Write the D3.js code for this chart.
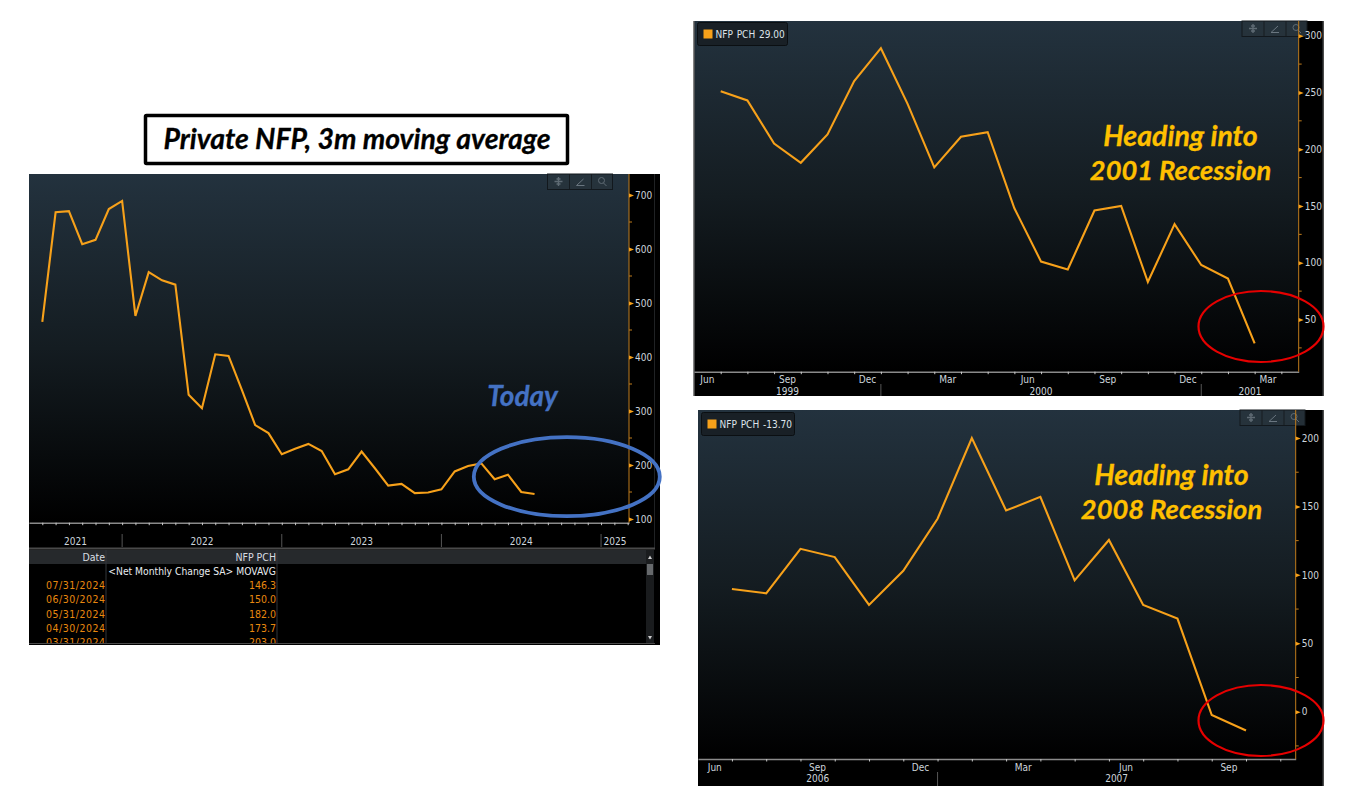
<!DOCTYPE html>
<html>
<head>
<meta charset="utf-8">
<script src="https://cdn.jsdelivr.net/npm/d3@7"></script>
<style>
  html, body { margin: 0; padding: 0; background: #fff; }
  svg { display: block; }
  .tick-label { font-family: "DejaVu Sans Condensed", "DejaVu Sans", sans-serif; font-size: 10px; fill: #cdd5dc; }
  .callout { font-family: Lato, sans-serif; font-weight: 700; font-style: italic; stroke-width: 0.3px; }
</style>
</head>
<body>
<svg id="chart" width="1369" height="790"></svg>
<script>
// Values, one point per month-end.
var todayValues = [465, 668, 670, 609, 617, 674, 689, 476, 557, 542, 534, 330, 305, 405, 402,
  339, 274, 259, 220, 230, 239, 226, 183, 192, 225, 194, 162, 165, 148, 149, 155, 188, 198,
  203, 173.7, 182, 150, 146.3];
var values2001 = [251, 243, 205, 188, 213, 260, 289, 240, 184, 211, 215, 148, 101, 94, 146,
  150, 83, 134, 98, 86, 29];
var values2008 = [89.6, 86.5, 119, 113, 78, 103, 141, 200, 147, 157, 96, 125.5, 78, 68, -2.4, -13.7];

var todayYTicks = [100, 200, 300, 400, 500, 600, 700];
var todayYMinor = [150, 250, 350, 450, 550, 650];
var yTicks2001 = [50, 100, 150, 200, 250, 300];
var yMinor2001 = [25, 75, 125, 175, 225, 275];
var yTicks2008 = [0, 50, 100, 150, 200];
var yMinor2008 = [-25, 25, 75, 125, 175];

// Month index of each December, then the year that ends or starts around it.
var todayYears = ['2021', '2022', '2023', '2024', '2025'];
var todayYearBreaks = [6, 18, 30, 42];
var years2001 = ['1999', '2000', '2001'];
var yearBreaks2001 = [6, 18];
var years2008 = ['2006', '2007'];
var yearBreaks2008 = [6];

var monthLabels2001 = ['Jun', 'Sep', 'Dec', 'Mar', 'Jun', 'Sep', 'Dec', 'Mar'];
var monthLabelIdx2001 = [0, 3, 6, 9, 12, 15, 18, 21];
var monthLabels2008 = ['Jun', 'Sep', 'Dec', 'Mar', 'Jun', 'Sep'];
var monthLabelIdx2008 = [0, 3, 6, 9, 12, 15];

var tableDates = ['07/31/2024', '06/30/2024', '05/31/2024', '04/30/2024', '03/31/2024'];
var tableValues = ['146.3', '150.0', '182.0', '173.7', '203.0'];

var lineColor = '#f7a11a';
var svg = d3.select('#chart');
var defs = svg.append('defs');

var grad = defs.append('linearGradient').attr('id', 'panelBg')
    .attr('x1', 0).attr('y1', 0).attr('x2', 0).attr('y2', 1);
grad.append('stop').attr('offset', '0%').attr('stop-color', '#23323e');
grad.append('stop').attr('offset', '50%').attr('stop-color', '#141c21');
grad.append('stop').attr('offset', '100%').attr('stop-color', '#000000');

function drawToolbox(g, x, y) {
  g = g.append('g').attr('transform', 'translate(' + x + ',' + y + ')');
  g.append('rect').attr('width', 65).attr('height', 15.5)
      .attr('fill', '#27333c').attr('fill-opacity', 0.92).attr('stroke', '#12181d');
  g.append('line').attr('x1', 22).attr('x2', 22).attr('y1', 0).attr('y2', 15).attr('stroke', '#161c21');
  g.append('line').attr('x1', 44).attr('x2', 44).attr('y1', 0).attr('y2', 15).attr('stroke', '#161c21');
  // move, draw and zoom glyphs
  g.append('path').attr('d', 'M11 3V12M7 7.5H15M9 5H13M9 10H13').attr('stroke', '#5f6b74').attr('stroke-width', 1.4).attr('fill', 'none');
  g.append('path').attr('d', 'M29 11.5L36 5M29 11.5H37').attr('stroke', '#6a7680').attr('fill', 'none');
  g.append('circle').attr('cx', 54).attr('cy', 6.5).attr('r', 3).attr('stroke', '#5f6b74').attr('fill', 'none');
  g.append('line').attr('x1', 56).attr('y1', 9).attr('x2', 59).attr('y2', 12).attr('stroke', '#5f6b74');
}

function drawPanel(p) {
  var g = svg.append('g');

  g.append('rect').attr('x', p.left).attr('y', p.top)
      .attr('width', p.outerRight - p.left).attr('height', p.bottom - p.top).attr('fill', '#000');
  g.append('rect').attr('x', p.left).attr('y', p.top)
      .attr('width', p.right - p.left).attr('height', p.axisY - p.top).attr('fill', 'url(#panelBg)');
  g.append('line').attr('x1', p.edgeX).attr('x2', p.edgeX).attr('y1', p.top).attr('y2', p.edgeBottom)
      .attr('stroke', '#202224');
  if (p.leftEdge) {
    g.append('line').attr('x1', p.left).attr('x2', p.left).attr('y1', p.top).attr('y2', p.bottom)
        .attr('stroke', '#5a5a5a').attr('stroke-width', 1.5);
  }

  drawToolbox(g, p.toolX, p.top);

  var x = d3.scaleLinear().domain(p.xDomain).range([p.left, p.right]);
  var y = d3.scaleLinear().domain(p.yDomain).range(p.yRange);

  // month ticks under the plot
  var xAxis = d3.axisBottom(x)
      .tickValues(d3.range(0, Math.floor(p.xDomain[1]) + 1))
      .tickSizeInner(2.5).tickSizeOuter(0).tickFormat('');
  var xg = g.append('g').attr('transform', 'translate(0,' + p.axisY + ')').call(xAxis);
  xg.select('.domain').attr('stroke', '#8a8a8a').attr('stroke-width', 1.4);
  xg.selectAll('.tick line').attr('stroke', '#c8c8c8');

  // value axis on the right with small arrow heads on the major ticks
  var yAxis = d3.axisRight(y).tickValues(p.yTicks).tickSize(0).tickPadding(5);
  var yg = g.append('g').attr('transform', 'translate(' + p.right + ',0)').call(yAxis);
  yg.select('.domain').attr('stroke', '#c07c1c').attr('d', 'M0,' + p.top + 'V' + p.axisY);
  yg.selectAll('.tick text').attr('class', 'tick-label').attr('x', 6).attr('fill', null);
  yg.selectAll('.tick').append('path').attr('d', 'M0,-2L5,0L0,2Z').attr('fill', '#f7a11a');
  yg.selectAll('.minor').data(p.yMinor).join('line').attr('class', 'minor')
      .attr('x1', 0).attr('x2', 3).attr('y1', d => y(d)).attr('y2', d => y(d))
      .attr('stroke', '#c07c1c');

  // year separators and labels
  var breaks = [p.xDomain[0]].concat(p.yearBreaks, [p.xDomain[1]]);
  g.selectAll('.year-sep').data(p.yearBreaks).join('line').attr('class', 'year-sep')
      .attr('x1', d => x(d)).attr('x2', d => x(d))
      .attr('y1', p.sepTop).attr('y2', p.sepBottom).attr('stroke', '#555');
  g.selectAll('.year').data(p.years).join('text').attr('class', 'tick-label year')
      .attr('x', (d, i) => x((breaks[i] + breaks[i + 1]) / 2))
      .attr('y', p.yearY).attr('text-anchor', 'middle').text(d => d);

  if (p.monthLabels) {
    g.selectAll('.month').data(p.monthLabels).join('text').attr('class', 'tick-label month')
        .attr('x', (d, i) => x(p.monthIdx[i] - 0.5))
        .attr('y', p.monthY).attr('text-anchor', 'middle').text(d => d);
  }

  var line = d3.line().x((d, i) => x(i)).y(d => y(d));
  g.append('path').datum(p.values).attr('d', line)
      .attr('fill', 'none').attr('stroke', lineColor).attr('stroke-width', 2.1)
      .attr('stroke-linejoin', 'miter');

  if (p.legend) {
    var lg = g.append('g').attr('transform', 'translate(' + p.legendX + ',' + p.legendY + ')');
    lg.append('rect').attr('width', p.legendW).attr('height', 23).attr('rx', 2)
        .attr('fill', '#192026').attr('stroke', '#0b0f12');
    lg.append('rect').attr('x', 6).attr('y', 7).attr('width', 9).attr('height', 9).attr('fill', lineColor);
    lg.append('text').attr('class', 'tick-label').attr('x', 18).attr('y', 15.5)
        .style('fill', '#dde4ea').style('word-spacing', '1px').text(p.legend);
  }
  return g;
}

drawPanel({
  left: 29, right: 629, outerRight: 660, top: 174, bottom: 645, axisY: 522.7,
  edgeX: 654.5, edgeBottom: 548,
  xDomain: [-1, 44.1], yDomain: [100, 700], yRange: [519, 195],
  values: todayValues, yTicks: todayYTicks, yMinor: todayYMinor,
  years: todayYears, yearBreaks: todayYearBreaks, yearY: 545, sepTop: 534, sepBottom: 547,
  toolX: 547.5
});
drawPanel({
  left: 694, right: 1298.7, outerRight: 1323.7, top: 21, bottom: 396, axisY: 371.7,
  edgeX: 1322.5, edgeBottom: 396, leftEdge: true,
  xDomain: [-1, 21.65], yDomain: [50, 300], yRange: [319.5, 35.7],
  values: values2001, yTicks: yTicks2001, yMinor: yMinor2001,
  years: years2001, yearBreaks: yearBreaks2001, yearY: 395, sepTop: 384, sepBottom: 396,
  monthLabels: monthLabels2001, monthIdx: monthLabelIdx2001, monthY: 383,
  toolX: 1242, legend: 'NFP PCH 29.00', legendX: 697.5, legendY: 22.5, legendW: 90
});
drawPanel({
  left: 698, right: 1295.7, outerRight: 1323.7, top: 410, bottom: 786, axisY: 759,
  edgeX: 1322.5, edgeBottom: 786,
  xDomain: [-0.99, 16.45], yDomain: [0, 200], yRange: [711.7, 438],
  values: values2008, yTicks: yTicks2008, yMinor: yMinor2008,
  years: years2008, yearBreaks: yearBreaks2008, yearY: 782, sepTop: 772, sepBottom: 786,
  monthLabels: monthLabels2008, monthIdx: monthLabelIdx2008, monthY: 770.5,
  toolX: 1240, legend: 'NFP PCH -13.70', legendX: 701.5, legendY: 412.5, legendW: 93
});

// Data table under the left chart
var table = svg.append('g');
defs.append('clipPath').attr('id', 'tableClip').append('rect')
    .attr('x', 29).attr('y', 549).attr('width', 626).attr('height', 94);
var tableBody = table.append('g').attr('clip-path', 'url(#tableClip)');
tableBody.append('rect').attr('x', 29).attr('y', 550).attr('width', 617).attr('height', 14).attr('fill', '#26292c');
[106, 277].forEach(function(cx) {
  tableBody.append('line').attr('x1', cx).attr('x2', cx).attr('y1', 550).attr('y2', 643).attr('stroke', '#33373b');
});
table.append('line').attr('x1', 29).attr('x2', 655).attr('y1', 548.5).attr('y2', 548.5).attr('stroke', '#4a4a4a').attr('stroke-width', 2);
table.append('line').attr('x1', 29).attr('x2', 655).attr('y1', 643.5).attr('y2', 643.5).attr('stroke', '#4a4a4a');

var tableFont = '"DejaVu Sans Condensed", "DejaVu Sans", sans-serif';
function tableText(x, y, s, color, size, spacing) {
  tableBody.append('text').attr('x', x).attr('y', y).attr('text-anchor', 'end')
      .style('font-family', tableFont).style('font-size', size + 'px')
      .style('letter-spacing', spacing + 'px').style('fill', color).text(s);
}
tableText(105, 561, 'Date', '#d8dde2', 10.5, 0);
tableText(276, 561, 'NFP PCH', '#d8dde2', 10.5, 0);
tableText(276, 575, '<Net Monthly Change SA> MOVAVG', '#e8ecef', 10.25, 0);
var rowY = d3.scaleLinear().domain([0, 4]).range([589, 646]);
tableDates.forEach(function(d, i) {
  tableText(105.5, rowY(i), d, '#e8880f', 10.5, 0.5);
  tableText(276, rowY(i), tableValues[i], '#e8880f', 10.5, 0);
});
// scrollbar
table.append('rect').attr('x', 646).attr('y', 550).attr('width', 8).attr('height', 93).attr('fill', '#1a1c1e');
table.append('rect').attr('x', 647).attr('y', 564).attr('width', 6).attr('height', 11).attr('fill', '#66696c');
table.append('path').attr('d', 'M648 559L650 555.5L652 559Z').attr('fill', '#ccc');
table.append('path').attr('d', 'M648 636L650 639.5L652 636Z').attr('fill', '#ccc');

// Title box
svg.append('rect').attr('x', 145.5).attr('y', 115.5).attr('width', 422).attr('height', 48)
    .attr('rx', 1).attr('fill', '#fff').attr('stroke', '#000').attr('stroke-width', 3.5);
svg.append('text').attr('class', 'callout').attr('x', 357).attr('y', 149)
    .attr('text-anchor', 'middle').style('font-size', '28.4px').style('fill', '#000')
    .style('stroke', '#000').text('Private NFP, 3m moving average');

// Callouts
function callout(x, y, s, color, size) {
  svg.append('text').attr('class', 'callout').attr('x', x).attr('y', y)
      .attr('text-anchor', 'middle').style('font-size', size + 'px').style('fill', color)
      .style('stroke', color).text(s);
}
callout(522.5, 406, 'Today', '#4472c4', 28);
callout(1180.5, 146, 'Heading into', '#ffc000', 28.5);
callout(1180.5, 180, '2001 Recession', '#ffc000', 27.3);
callout(1171.5, 485, 'Heading into', '#ffc000', 28.5);
callout(1171.5, 519, '2008 Recession', '#ffc000', 27.3);

// Circled regions
function ring(cx, cy, rx, ry, color, w) {
  svg.append('ellipse').attr('cx', cx).attr('cy', cy).attr('rx', rx).attr('ry', ry)
      .attr('fill', 'none').attr('stroke', color).attr('stroke-width', w);
}
ring(566.8, 476.7, 93, 39.5, '#4472c4', 3.8);
ring(1261, 326.5, 62.5, 35.5, '#e60000', 2.2);
ring(1261, 720.5, 62.5, 35.5, '#e60000', 2.2);
</script>
</body>
</html>
